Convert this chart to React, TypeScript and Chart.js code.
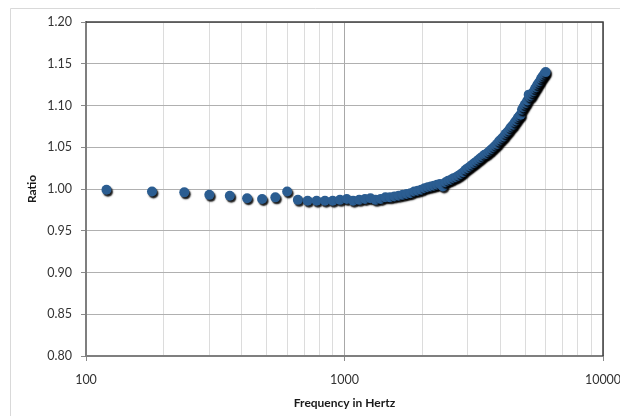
import React, { useEffect, useRef } from "react";
import { Chart, registerables } from "chart.js";

Chart.register(...registerables);

// Measured harmonics, 60 Hz apart
const FREQUENCIES_HZ = [
  120, 180, 240, 300, 360, 420, 480, 540, 600, 660,
  720, 780, 840, 900, 960, 1020, 1080, 1140, 1200, 1260,
  1320, 1380, 1440, 1500, 1560, 1620, 1680, 1740, 1800, 1860,
  1920, 1980, 2040, 2100, 2160, 2220, 2280, 2340, 2400, 2460,
  2520, 2580, 2640, 2700, 2760, 2820, 2880, 2940, 3000, 3060,
  3120, 3180, 3240, 3300, 3360, 3420, 3480, 3540, 3600, 3660,
  3720, 3780, 3840, 3900, 3960, 4020, 4080, 4140, 4200, 4260,
  4320, 4380, 4440, 4500, 4560, 4620, 4680, 4740, 4800, 4860,
  4920, 4980, 5040, 5100, 5160, 5220, 5280, 5340, 5400, 5460,
  5520, 5580, 5640, 5700, 5760, 5820, 5880, 5940, 6000,
];

const RATIOS = [
  0.999, 0.997, 0.996, 0.993, 0.992, 0.989, 0.988, 0.990, 0.997, 0.987,
  0.986, 0.986, 0.986, 0.986, 0.987, 0.988, 0.986, 0.987, 0.988, 0.989,
  0.987, 0.988, 0.990, 0.990, 0.991, 0.992, 0.993, 0.994, 0.995, 0.997,
  0.998, 0.999, 1.001, 1.002, 1.003, 1.004, 1.005, 1.006, 1.003, 1.008,
  1.010, 1.011, 1.013, 1.014, 1.016, 1.018, 1.020, 1.023, 1.025, 1.027,
  1.029, 1.031, 1.033, 1.035, 1.037, 1.039, 1.041, 1.042, 1.044, 1.046,
  1.048, 1.050, 1.052, 1.054, 1.057, 1.059, 1.061, 1.063, 1.066, 1.068,
  1.070, 1.073, 1.075, 1.077, 1.080, 1.082, 1.085, 1.087, 1.089, 1.095,
  1.098, 1.101, 1.103, 1.106, 1.113, 1.110, 1.112, 1.115, 1.117, 1.120,
  1.122, 1.125, 1.127, 1.129, 1.132, 1.134, 1.136, 1.138, 1.140,
];

const X_TICKS = [
  100, 200, 300, 400, 500, 600, 700, 800, 900,
  1000, 2000, 3000, 4000, 5000, 6000, 7000, 8000, 9000, 10000,
];

const Y_MIN = 0.8;
const Y_MAX = 1.2;
const Y_STEP = 0.05;

const X_TITLE = "Frequency in Hertz";
const Y_TITLE = "Ratio";

const FONT = "Lato, 'Open Sans', 'DejaVu Sans', sans-serif";

const isDecade = (v: number) => {
  const l = Math.log10(v);
  return Math.abs(l - Math.round(l)) < 1e-6;
};

// Light outer chart border plus the dark top/right edge of the plot area
const framePlugin = {
  id: "frame",
  beforeDraw(chart: any) {
    const ctx = chart.ctx;
    ctx.save();
    ctx.fillStyle = "#ffffff";
    ctx.fillRect(0, 0, chart.width, chart.height);
    ctx.strokeStyle = "#D9D9D9";
    ctx.lineWidth = 1;
    ctx.beginPath();
    ctx.moveTo(10.5, chart.height);
    ctx.lineTo(10.5, 8.5);
    ctx.lineTo(chart.width, 8.5);
    ctx.stroke();
    ctx.restore();
  },
  beforeDatasetsDraw(chart: any) {
    const { left, right, top, bottom } = chart.chartArea;
    const ctx = chart.ctx;
    ctx.save();
    ctx.strokeStyle = "#404040";
    ctx.lineWidth = 1.5;
    ctx.beginPath();
    ctx.moveTo(left, top);
    ctx.lineTo(right, top);
    ctx.lineTo(right, bottom);
    ctx.stroke();
    ctx.restore();
  },
};

// Drop shadow under the markers
const shadowPlugin = {
  id: "markerShadow",
  beforeDatasetDraw(chart: any) {
    const ctx = chart.ctx;
    ctx.save();
    ctx.shadowColor = "rgba(0,0,0,0.9)";
    ctx.shadowOffsetX = 1.5;
    ctx.shadowOffsetY = 2;
    ctx.shadowBlur = 1.5;
  },
  afterDatasetDraw(chart: any) {
    chart.ctx.restore();
  },
};

export default function App() {
  const canvasRef = useRef<HTMLCanvasElement | null>(null);

  useEffect(() => {
    if (!canvasRef.current) return;
    const points = FREQUENCIES_HZ.map((f, i) => ({ x: f, y: RATIOS[i] }));

    const chart = new Chart(canvasRef.current, {
      type: "scatter",
      data: {
        datasets: [
          {
            data: points,
            backgroundColor: "#2B5D91",
            borderWidth: 0,
            pointRadius: 5,
            pointHoverRadius: 5,
            showLine: false,
            clip: false as any,
          },
        ],
      },
      options: {
        animation: false,
        responsive: false,
        devicePixelRatio: 1,
        layout: { padding: { left: 0, top: 22, right: 17, bottom: 6 } },
        plugins: {
          legend: { display: false },
          tooltip: { enabled: false },
        },
        scales: {
          x: {
            type: "logarithmic",
            min: 100,
            max: 10000,
            afterBuildTicks: (scale: any) => {
              scale.ticks = X_TICKS.map((v) => ({ value: v, major: false }));
            },
            afterFit: (scale: any) => {
              scale.height = 54;
              scale.paddingLeft = 0;
              scale.paddingRight = 0;
            },
            ticks: {
              autoSkip: false,
              maxRotation: 0,
              minRotation: 0,
              padding: 11.5,
              color: "#333333",
              font: { family: FONT, size: 12.5 },
              callback: (value: any) => (isDecade(Number(value)) ? String(Number(value)) : ""),
            },
            grid: {
              color: (ctx: any) =>
                ctx.tick && isDecade(ctx.tick.value) ? "#A8A8A8" : "#DCDCDC",
              tickColor: (ctx: any) =>
                ctx.tick && isDecade(ctx.tick.value) ? "#8A8A8A" : "rgba(0,0,0,0)",
              tickLength: 5,
              lineWidth: 1,
            },
            border: { color: "#7F7F7F", width: 2 },
            title: {
              display: true,
              text: X_TITLE,
              color: "#1A1A1A",
              font: { family: FONT, size: 12, weight: "bold" },
              padding: { top: 0, bottom: 0 },
            },
          },
          y: {
            type: "linear",
            min: Y_MIN,
            max: Y_MAX,
            afterFit: (scale: any) => {
              scale.width = 86;
              scale.paddingTop = 0;
              scale.paddingBottom = 0;
            },
            ticks: {
              stepSize: Y_STEP,
              padding: 9,
              color: "#333333",
              font: { family: FONT, size: 12.5 },
              callback: (value: any) => Number(value).toFixed(2),
            },
            grid: {
              color: "#B0B0B0",
              tickColor: "#8A8A8A",
              tickLength: 5,
              lineWidth: 1,
            },
            border: { color: "#7F7F7F", width: 2 },
            title: {
              display: true,
              text: Y_TITLE,
              color: "#1A1A1A",
              font: { family: FONT, size: 12, weight: "bold" },
              padding: { top: 25, bottom: 0 },
            },
          },
        },
      },
      plugins: [framePlugin, shadowPlugin],
    });

    return () => chart.destroy();
  }, []);

  return (
    <div
      style={{
        position: "absolute",
        left: 0,
        top: 0,
        width: 620,
        height: 416,
        background: "#ffffff",
        overflow: "hidden",
      }}
    >
      <canvas ref={canvasRef} width={620} height={416} style={{ display: "block" }} />
    </div>
  );
}
